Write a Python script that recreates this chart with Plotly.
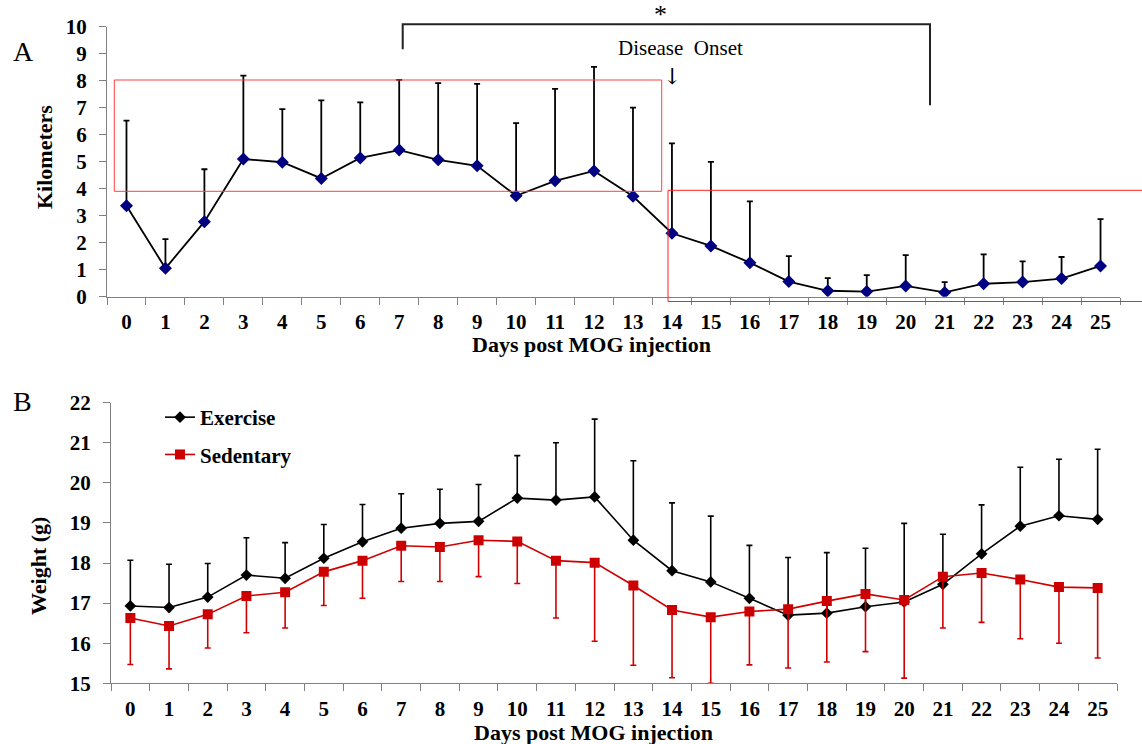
import plotly.graph_objects as go

# ---------------- data ----------------
days = [str(d) for d in range(26)]

# Panel A: kilometers run (mean) and upper error
km_mean = [3.37, 1.05, 2.78, 5.10, 4.98, 4.38, 5.14, 5.43, 5.07, 4.85, 3.74, 4.29, 4.66,
           3.72, 2.35, 1.88, 1.26, 0.56, 0.22, 0.19, 0.40, 0.16, 0.48, 0.54, 0.67, 1.14]
km_top = [6.52, 2.13, 4.72, 8.19, 6.95, 7.27, 7.20, 8.03, 7.91, 7.88, 6.43, 7.70, 8.51,
          7.00, 5.68, 4.99, 3.53, 1.50, 0.69, 0.80, 1.54, 0.54, 1.57, 1.31, 1.47, 2.87]

# Panel B: weight (g)
ex_mean = [16.93, 16.89, 17.15, 17.70, 17.62, 18.12, 18.53, 18.87, 18.99, 19.04, 19.62, 19.57, 19.65,
           18.57, 17.81, 17.53, 17.12, 16.70, 16.75, 16.91, 17.03, 17.47, 18.23, 18.92, 19.18, 19.09]
ex_top = [18.07, 17.97, 17.99, 18.63, 18.51, 18.96, 19.46, 19.73, 19.84, 19.96, 20.68, 21.00, 21.59,
          20.55, 19.50, 19.17, 18.44, 18.14, 18.26, 18.37, 18.99, 18.72, 19.45, 20.39, 20.59, 20.84]
sed_mean = [16.63, 16.43, 16.72, 17.18, 17.27, 17.78, 18.06, 18.43, 18.40, 18.57, 18.54, 18.06, 18.01,
            17.44, 16.83, 16.65, 16.79, 16.85, 17.05, 17.23, 17.08, 17.66, 17.75, 17.59, 17.40, 17.38]
sed_bot = [15.47, 15.36, 15.88, 16.26, 16.38, 16.94, 17.12, 17.54, 17.54, 17.66, 17.49, 16.63, 16.05,
           15.45, 15.14, 15.00, 15.46, 15.38, 15.53, 15.79, 15.13, 16.38, 16.52, 16.11, 16.00, 15.63]

km_err = [t - m for t, m in zip(km_top, km_mean)]
ex_err = [t - m for t, m in zip(ex_top, ex_mean)]
sed_err = [m - b for m, b in zip(sed_mean, sed_bot)]
zeros = [0] * len(days)

FONT = "Liberation Serif"
W, H = 1142, 744


def px(x):
    return x / W


def py(y):
    return 1 - y / H


fig = go.Figure()

fig.add_trace(go.Scatter(
    x=days, y=km_mean, mode="lines+markers", xaxis="x", yaxis="y", showlegend=False,
    line=dict(color="black", width=1.8),
    marker=dict(symbol="diamond", size=10, color="#000080"),
    error_y=dict(type="data", symmetric=False, array=km_err, arrayminus=zeros,
                 color="black", thickness=1.8, width=3),
))

fig.add_trace(go.Scatter(
    x=days, y=ex_mean, mode="lines+markers", name="Exercise", xaxis="x2", yaxis="y2",
    legendgroup="ex",
    line=dict(color="black", width=1.6),
    marker=dict(symbol="diamond", size=9, color="black"),
    error_y=dict(type="data", symmetric=False, array=ex_err, arrayminus=zeros,
                 color="black", thickness=1.6, width=3),
))
fig.add_trace(go.Scatter(
    x=days, y=sed_mean, mode="lines+markers", name="Sedentary", xaxis="x2", yaxis="y2",
    legendgroup="sed",
    line=dict(color="#d00000", width=1.6),
    marker=dict(symbol="square", size=10, color="#cc0000"),
    error_y=dict(type="data", symmetric=False, array=zeros, arrayminus=sed_err,
                 color="#d00000", thickness=1.6, width=3),
))

tickfont = dict(family=FONT, size=21, color="black", weight="bold")
axcol = "#808080"

xcommon = dict(type="category", tickson="boundaries", ticks="outside", ticklen=7,
               tickcolor=axcol, showline=True, linecolor=axcol, linewidth=1.3,
               showgrid=False, zeroline=False, tickfont=tickfont, ticklabelstandoff=6,
               automargin=False)
ycommon = dict(ticks="outside", ticklen=7, tickcolor=axcol, showline=True, linecolor=axcol,
               linewidth=1.3, showgrid=False, zeroline=False, tickfont=tickfont,
               ticklabelstandoff=8, automargin=False)

fig.update_layout(
    width=W, height=H,
    margin=dict(l=0, r=0, t=0, b=0, pad=0, autoexpand=False),
    paper_bgcolor="white", plot_bgcolor="white",
    font=dict(family=FONT, color="black"),
    xaxis=dict(domain=[px(107), px(1120)], anchor="y", range=[-0.5, 25.5], **xcommon),
    yaxis=dict(domain=[py(296.7), py(26.7)], anchor="x", range=[0, 10], dtick=1, **ycommon),
    xaxis2=dict(domain=[px(111), px(1117)], anchor="y2", range=[-0.5, 25.5], **xcommon),
    yaxis2=dict(domain=[py(683.3), py(402.7)], anchor="x2", range=[15, 22], dtick=1, **ycommon),
    showlegend=True,
    legend=dict(x=px(160), y=py(397), xanchor="left", yanchor="top",
                font=dict(family=FONT, size=21, color="black", weight="bold"),
                bgcolor="rgba(0,0,0,0)", tracegroupgap=7, itemwidth=30),
)

annotations = [
    dict(text="A", x=px(23), y=py(51), font=dict(family=FONT, size=28)),
    dict(text="B", x=px(22), y=py(401), font=dict(family=FONT, size=28)),
    dict(text="Kilometers", x=px(44), y=py(157), textangle=-90,
         font=dict(family=FONT, size=22, weight="bold")),
    dict(text="Weight (g)", x=px(38), y=py(566), textangle=-90,
         font=dict(family=FONT, size=22, weight="bold")),
    dict(text="Days post MOG injection", x=px(592), y=py(345),
         font=dict(family=FONT, size=22, weight="bold")),
    dict(text="Days post MOG injection", x=px(593), y=py(732),
         font=dict(family=FONT, size=22, weight="bold")),
    dict(text="*", x=px(660), y=py(15), font=dict(family=FONT, size=26)),
    dict(text="Disease  Onset", x=px(680), y=py(48), font=dict(family=FONT, size=21)),
    dict(text="\u2193", x=px(672), y=py(76), font=dict(family="DejaVu Serif", size=22)),
]
for a in annotations:
    a.update(xref="paper", yref="paper", showarrow=False, xanchor="center", yanchor="middle")
fig.update_layout(annotations=annotations)

shapes = [
    dict(type="path",
         path=f"M {px(402.7)} {py(49.3)} L {px(402.7)} {py(24.3)} L {px(930)} {py(24.3)} L {px(930)} {py(105.3)}",
         line=dict(color="#222222", width=2)),
    dict(type="rect", x0=px(114.3), y0=py(191.3), x1=px(661.7), y1=py(80),
         line=dict(color="#ff4040", width=1)),
    dict(type="rect", x0=px(668), y0=py(301.5), x1=px(1150), y1=py(190.3),
         line=dict(color="#ff2020", width=1)),
]
for s in shapes:
    s.update(xref="paper", yref="paper")
fig.update_layout(shapes=shapes)

fig.write_html("out.html")
